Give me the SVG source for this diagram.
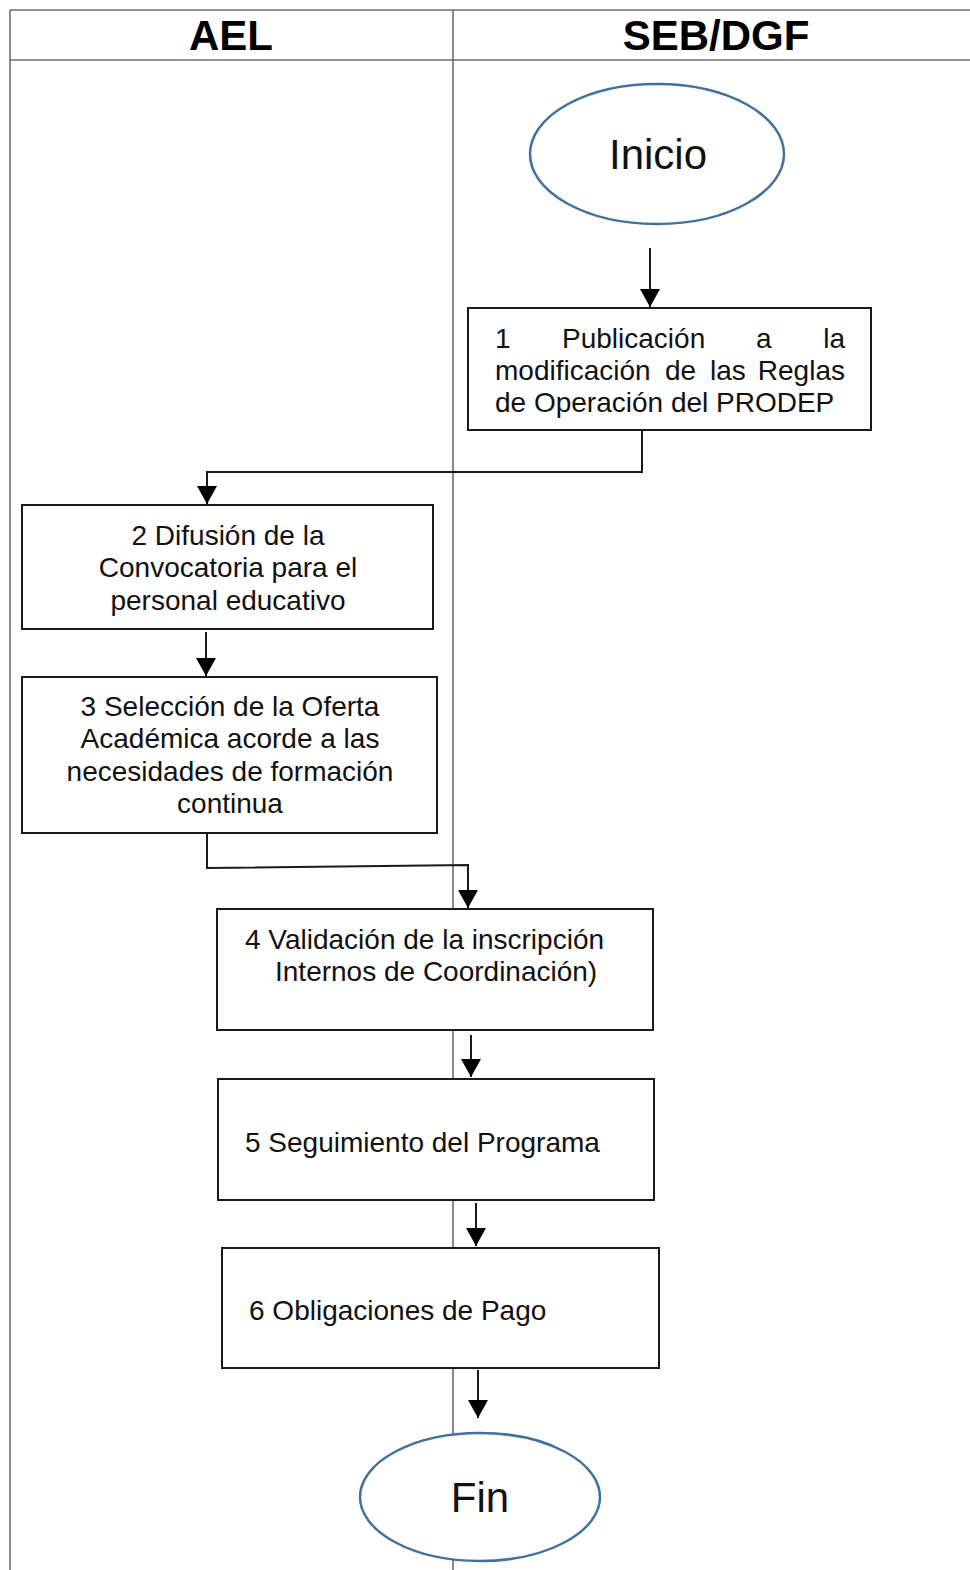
<svg xmlns="http://www.w3.org/2000/svg" width="970" height="1570" viewBox="0 0 970 1570">
<style>
.frame{stroke:#6b6b6b;stroke-width:1.6;fill:none}
.box{fill:#fff;stroke:#1a1a1a;stroke-width:2}
.term{fill:#fff;stroke:#41719c;stroke-width:2.5}
.t{font-family:"Liberation Sans",Arial,sans-serif;font-size:28px;fill:#111}
.c{text-anchor:middle}
.h{font-family:"Liberation Sans",Arial,sans-serif;font-size:42px;font-weight:bold;fill:#000;text-anchor:middle}
.big{font-family:"Liberation Sans",Arial,sans-serif;font-size:42px;fill:#111;text-anchor:middle}
.conn{fill:none;stroke:#1a1a1a;stroke-width:2}
</style>
<defs>
<marker id="ah" viewBox="0 0 18 20" refX="18" refY="10" markerWidth="18" markerHeight="20" markerUnits="userSpaceOnUse" orient="auto">
<path d="M0,0 L18,10 L0,20 z" fill="#000"/>
</marker>
</defs>
<rect width="970" height="1570" fill="#fff"/>
<g id="lanes">
<line class="frame" x1="10" y1="10" x2="970" y2="10"/>
<line class="frame" x1="10" y1="60" x2="970" y2="60"/>
<line class="frame" x1="10" y1="10" x2="10" y2="1570"/>
<line class="frame" x1="453" y1="10" x2="453" y2="1570"/>
<text class="h" x="231" y="50">AEL</text>
<text class="h" x="716" y="50">SEB/DGF</text>
</g>
<g id="connectors">
<path class="conn" d="M650,248 V307" marker-end="url(#ah)"/>
<path class="conn" d="M642,431 V472 H207 V504" marker-end="url(#ah)"/>
<path class="conn" d="M206,632 V676" marker-end="url(#ah)"/>
<path class="conn" d="M207,834 V868 L468,865 V908" marker-end="url(#ah)"/>
<path class="conn" d="M471,1035 V1077" marker-end="url(#ah)"/>
<path class="conn" d="M476,1203 V1246" marker-end="url(#ah)"/>
<path class="conn" d="M478,1370 V1418" marker-end="url(#ah)"/>
</g>
<g id="inicio">
<ellipse class="term" cx="657" cy="154" rx="127" ry="70"/>
<text class="big" x="658" y="169">Inicio</text>
</g>
<g id="n1">
<rect class="box" x="468" y="308" width="403" height="122"/>
<text class="t" y="348"><tspan x="495">1</tspan><tspan x="562">Publicación</tspan><tspan x="756">a</tspan><tspan x="845" text-anchor="end">la</tspan></text>
<text class="t" y="380"><tspan x="495">modificación</tspan><tspan x="845" text-anchor="end">Reglas</tspan></text>
<text class="t" y="380"><tspan x="665">de</tspan><tspan x="710">las</tspan></text>
<text class="t" y="412" x="495">de Operación del PRODEP</text>
</g>
<g id="n2">
<rect class="box" x="22" y="505" width="411" height="124"/>
<text class="t c" x="228" y="545">2 Difusión de la</text>
<text class="t c" x="228" y="577">Convocatoria para el</text>
<text class="t c" x="228" y="610">personal educativo</text>
</g>
<g id="n3">
<rect class="box" x="22" y="677" width="415" height="156"/>
<text class="t c" x="230" y="716">3 Selección de la Oferta</text>
<text class="t c" x="230" y="748">Académica acorde a las</text>
<text class="t c" x="230" y="781">necesidades de formación</text>
<text class="t c" x="230" y="813">continua</text>
</g>
<g id="n4">
<rect class="box" x="217" y="909" width="436" height="121"/>
<text class="t" x="245" y="949">4 Validación de la inscripción</text>
<text class="t" x="275" y="981">Internos de Coordinación)</text>
</g>
<g id="n5">
<rect class="box" x="218" y="1079" width="436" height="121"/>
<text class="t" x="245" y="1152">5 Seguimiento del Programa</text>
</g>
<g id="n6">
<rect class="box" x="222" y="1248" width="437" height="120"/>
<text class="t" x="249" y="1320">6 Obligaciones de Pago</text>
</g>
<g id="fin">
<ellipse class="term" cx="480" cy="1497" rx="120" ry="64"/>
<text class="big" x="480" y="1512">Fin</text>
</g>
</svg>
